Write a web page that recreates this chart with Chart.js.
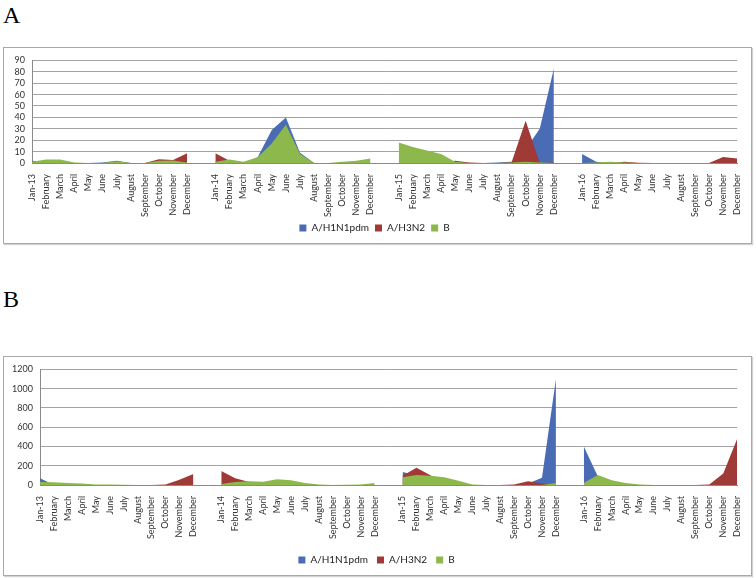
<!DOCTYPE html>
<html>
<head>
<meta charset="utf-8">
<script src="https://cdn.jsdelivr.net/npm/chart.js@4.4.1/dist/chart.umd.min.js"></script>
<style>
  body { margin: 0; background: #fff; width: 756px; height: 578px; position: relative; overflow: hidden; }
  .tag { position: absolute; left: 3px; font-family: "Liberation Serif", serif; font-size: 24px; color: #000; }
  .frame { position: absolute; left: 3px; width: 747px; border: 1px solid #a9a9a9; box-shadow: 1px 1px 1px #d2d2d2; background: #fff; }
  canvas { display: block; }
</style>
</head>
<body>
<div class="tag" style="top:2px">A</div>
<div class="frame" style="top:47px;height:195px"><canvas id="chartA" width="747" height="195"></canvas></div>
<div class="tag" style="top:286px">B</div>
<div class="frame" style="top:356px;height:218px"><canvas id="chartB" width="747" height="218"></canvas></div>
<script>
// month names, first month of each year shows the year
const monthNames = ['February', 'March', 'April', 'May', 'June', 'July', 'August', 'September', 'October', 'November', 'December'];
const years = ['13', '14', '15', '16'];
const seriesNames = ['A/H1N1pdm', 'A/H3N2', 'B'];
const colors = ['#4a6cb5', '#a03a37', '#8db84b'];

// blank category between years -> null
const labels = [];
years.forEach((y, i) => {
  if (i > 0) labels.push('');
  labels.push('Jan-' + y);
  monthNames.forEach(m => labels.push(m));
});

// panel A
const h1n1A = [
  2, 0, 0, 0, 0, 0.5, 2, 0, 0, 0, 0, 0, null,
  0, 0, 0, 5, 29, 40, 9, 0, 0, 0, 0, 0, null,
  0, 0, 0, 0, 0, 0, 0, 0.5, 1, 12, 30, 83, null,
  8, 1, 0, 0, 0, 0, 0, 0, 0, 0, 0, 0
];
const h3n2A = [
  0, 0, 0, 0, 0, 0, 0, 0, 0, 3.2, 2.6, 8.6, null,
  8.6, 2, 0, 0, 0, 0, 0, 0, 0, 0, 0, 0, null,
  0, 0, 0, 0, 2, 0.5, 0, 0, 0.5, 37, 0, 0.5, null,
  0, 0, 0, 1, 0.3, 0, 0, 0, 0, 0, 5.3, 4
];
const bA = [
  1, 3, 3, 0.5, 0, 0, 1.5, 0, 0, 2, 2.3, 0.5, null,
  1, 3, 1, 5, 17, 33.5, 8, 0, 0, 1, 2, 4, null,
  18, 14, 11, 8, 1, 0, 0, 0, 0.5, 1, 0.5, 0, null,
  0, 0.5, 1, 0.5, 0, 0, 0, 0, 0, 0, 0, 0
];

// panel B
const h1n1B = [
  70, 0, 0, 0, 0, 0, 0, 0, 0, 0, 0, 0, null,
  0, 0, 0, 0, 0, 0, 0, 0, 0, 0, 0, 0, null,
  135, 100, 0, 0, 0, 0, 0, 0, 0, 15, 75, 1100, null,
  400, 90, 0, 0, 0, 0, 0, 0, 0, 0, 0, 0
];
const h3n2B = [
  0, 0, 0, 0, 0, 0, 0, 0, 0, 5, 55, 115, null,
  145, 70, 30, 0, 0, 0, 0, 0, 0, 0, 0, 0, null,
  95, 180, 100, 0, 0, 0, 0, 0, 5, 40, 15, 0, null,
  0, 0, 0, 0, 0, 0, 0, 0, 0, 5, 120, 480
];
const bB = [
  30, 28, 20, 15, 5, 5, 2, 0, 0, 0, 0, 0, null,
  10, 30, 40, 35, 60, 50, 20, 5, 0, 2, 5, 20, null,
  80, 105, 95, 80, 45, 5, 0, 0, 0, 0, 0, 20, null,
  20, 105, 50, 20, 5, 0, 0, 0, 0, 0, 0, 0
];

const tickFont = { family: 'Lato', size: 9 };

function makeChart(id, series, yMax, yStep, yWidth, xHeight, topPad, rightPad, legendPad) {
  const datasets = series.map((d, i) => ({
    label: seriesNames[i],
    data: d,
    backgroundColor: colors[i],
    borderColor: colors[i],
    borderWidth: 0,
    pointRadius: 0,
    fill: 'origin',
    tension: 0,
    spanGaps: false,
    order: 3 - i   // blue drawn first, green on top
  }));

  return new Chart(document.getElementById(id), {
    type: 'line',
    data: { labels, datasets },
    options: {
      responsive: false,
      animation: false,
      devicePixelRatio: 1,
      layout: { padding: { top: topPad, right: rightPad, left: 0, bottom: 0 } },
      plugins: {
        tooltip: { enabled: false },
        legend: {
          position: 'bottom',
          reverse: true,
          labels: {
            boxWidth: 7, boxHeight: 7, padding: legendPad,
            color: '#222', font: { family: 'Lato', size: 10 }
          }
        }
      },
      scales: {
        x: {
          offset: false,
          grid: { display: false },
          border: { display: true, color: '#8a8a8a' },
          ticks: { autoSkip: false, maxRotation: 90, minRotation: 90, padding: 3, color: '#333', font: tickFont },
          afterFit: s => { s.height = xHeight; }
        },
        y: {
          min: 0, max: yMax,
          grid: { color: '#a3a3a3', drawTicks: false },
          border: { display: true, color: '#8a8a8a' },
          ticks: {
            stepSize: yStep, autoSkip: false, padding: 7, color: '#333', font: tickFont,
            callback: v => String(v)
          },
          afterFit: s => { s.width = yWidth; }
        }
      }
    }
  });
}

makeChart('chartA', [h1n1A, h3n2A, bA], 90, 10, 28, 54, 6, 6, 6);
makeChart('chartB', [h1n1B, h3n2B, bB], 1200, 200, 36, 61, 7, 2, 9);
</script>
</body>
</html>
